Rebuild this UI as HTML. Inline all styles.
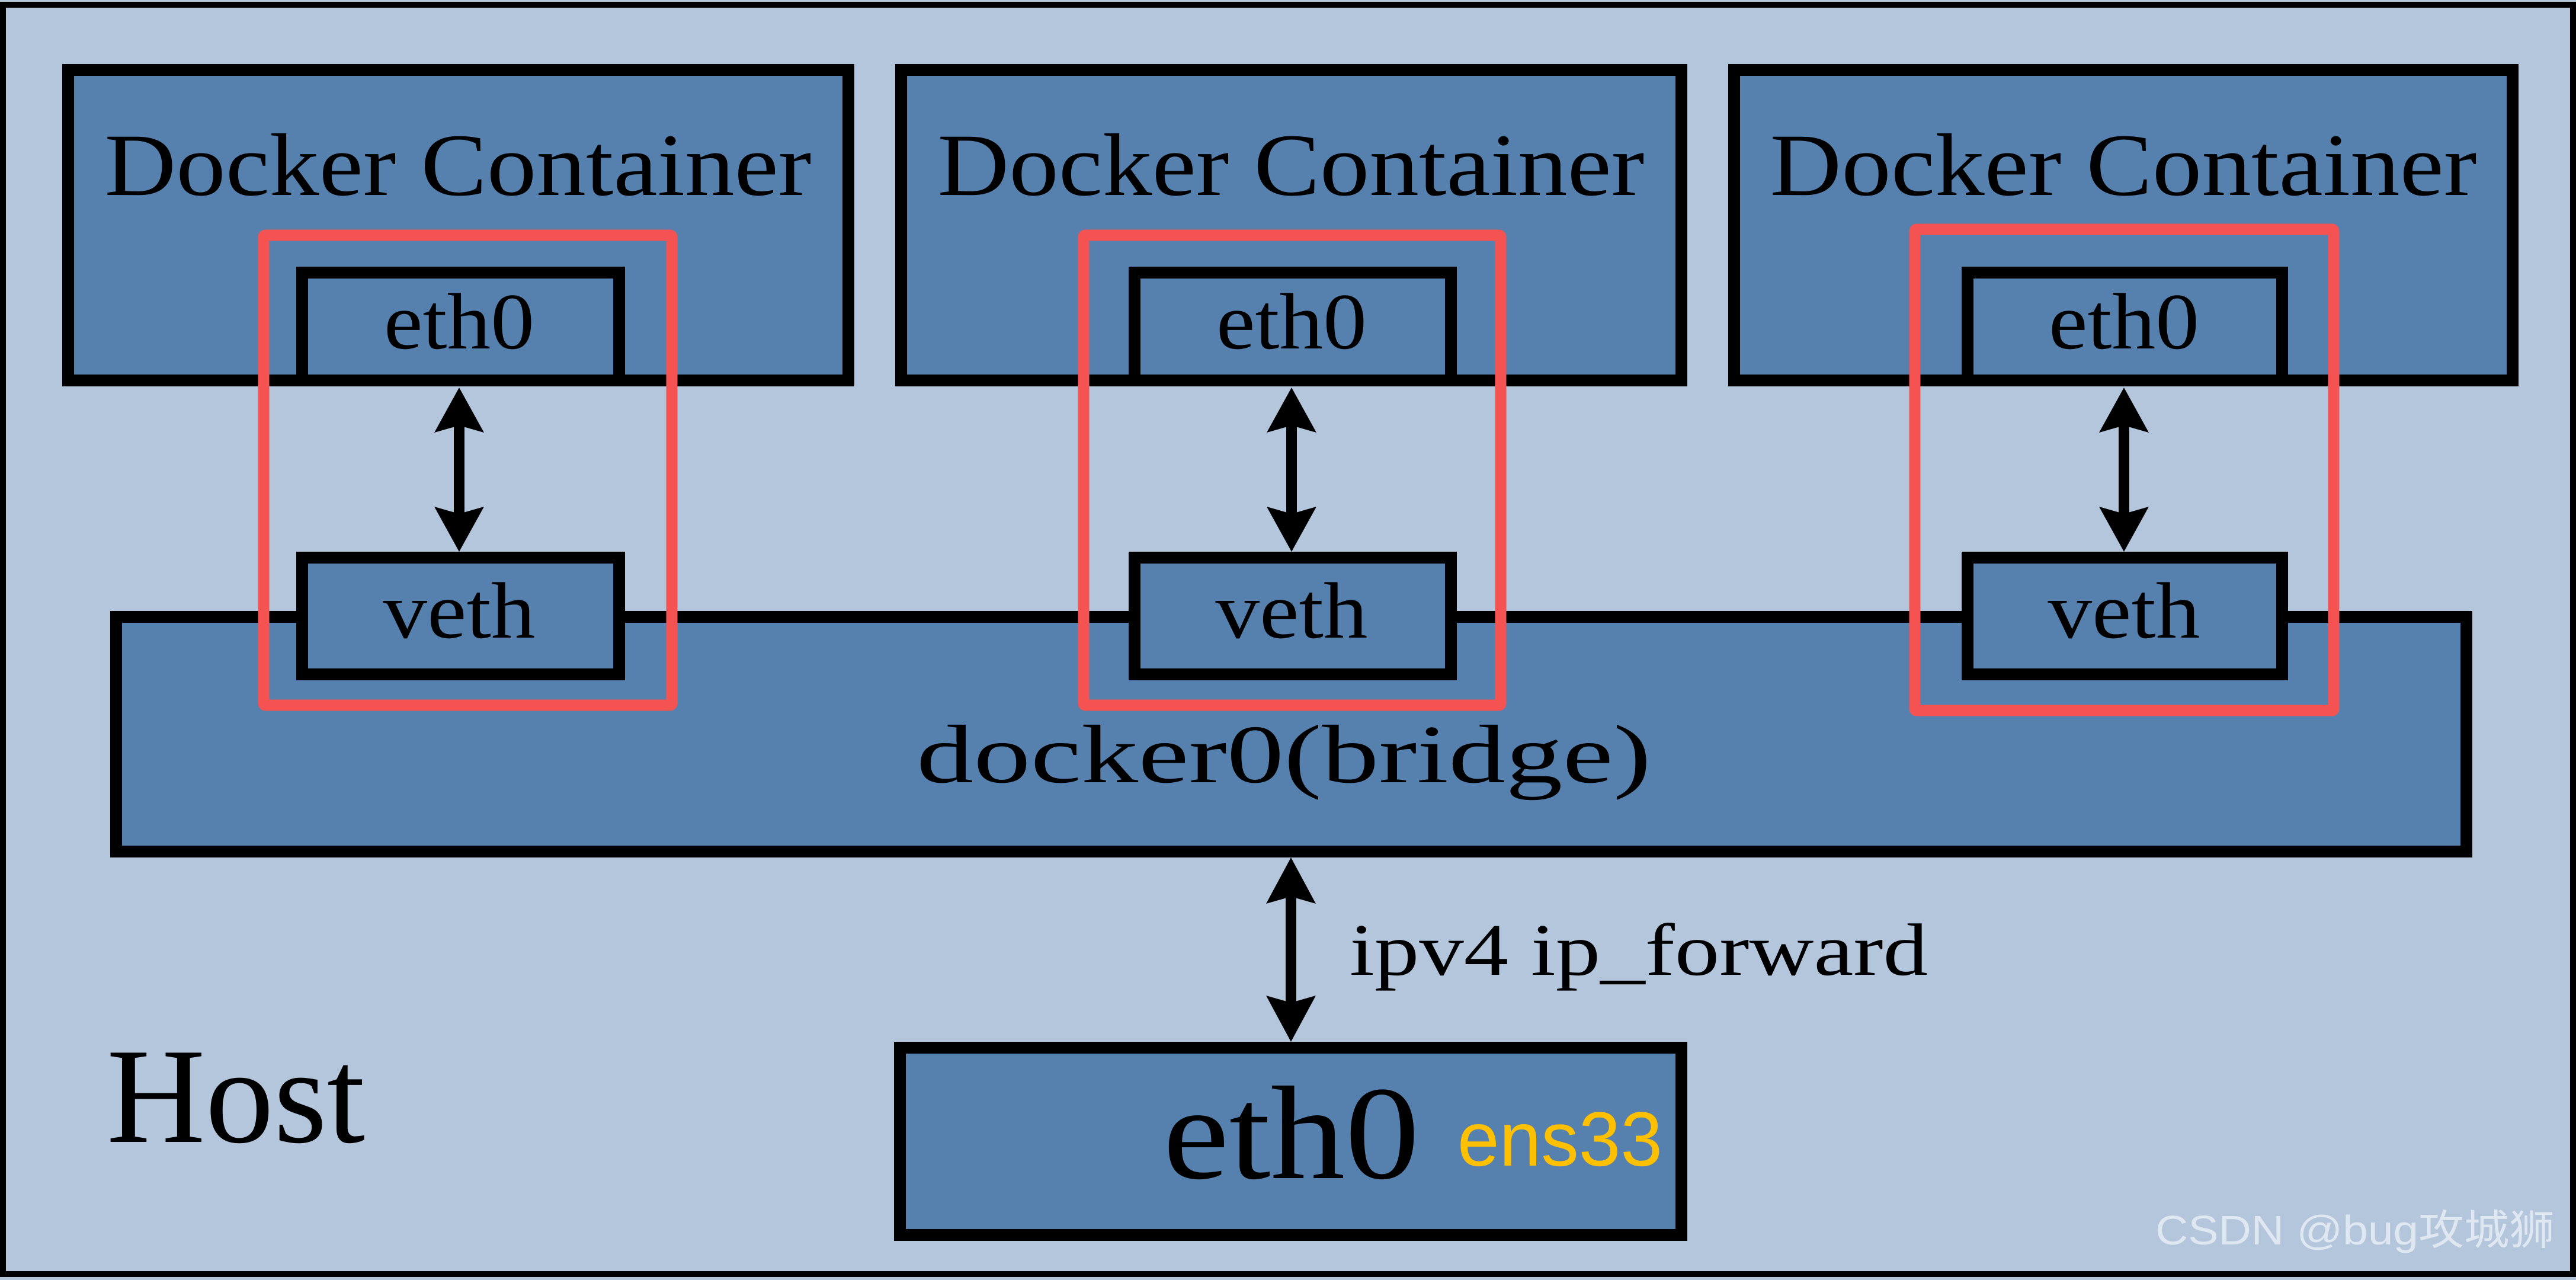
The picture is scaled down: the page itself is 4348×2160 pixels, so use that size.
<!DOCTYPE html>
<html><head><meta charset="utf-8"><style>html,body{margin:0;padding:0;background:#b4c6dc}svg{display:block}</style></head><body>
<svg width="4348" height="2160" viewBox="0 0 4348 2160" xmlns="http://www.w3.org/2000/svg">
<rect x="0" y="0" width="4348" height="2160" fill="#b4c6dc"/>
<rect x="5" y="8" width="4338" height="2142" fill="none" stroke="#000" stroke-width="10"/>
<g fill="#5681ae" stroke="#000" stroke-width="20">
<rect x="115" y="118" width="1317" height="524"/>
<rect x="1521" y="118" width="1317" height="524"/>
<rect x="2927" y="118" width="1314" height="524"/>
<rect x="510" y="460" width="535" height="182"/>
<rect x="1915" y="460" width="534" height="182"/>
<rect x="3321" y="460" width="531" height="182"/>
<rect x="196" y="1041" width="3967" height="396"/>
<rect x="510" y="941" width="535" height="197"/>
<rect x="1915" y="941" width="534" height="197"/>
<rect x="3321" y="941" width="531" height="197"/>
<rect x="1519" y="1768" width="1319" height="316"/>
</g>
<g font-family="Liberation Serif, serif" fill="#000">
<text x="773" y="329" font-size="150" text-anchor="middle" textLength="1193" lengthAdjust="spacingAndGlyphs">Docker Container</text>
<text x="2179" y="329" font-size="150" text-anchor="middle" textLength="1193" lengthAdjust="spacingAndGlyphs">Docker Container</text>
<text x="3584" y="329" font-size="150" text-anchor="middle" textLength="1193" lengthAdjust="spacingAndGlyphs">Docker Container</text>
<text x="775" y="588" font-size="135" text-anchor="middle" textLength="254" lengthAdjust="spacingAndGlyphs">eth0</text>
<text x="2180" y="588" font-size="135" text-anchor="middle" textLength="254" lengthAdjust="spacingAndGlyphs">eth0</text>
<text x="3585" y="588" font-size="135" text-anchor="middle" textLength="254" lengthAdjust="spacingAndGlyphs">eth0</text>
<text x="775" y="1076" font-size="135" text-anchor="middle" textLength="257" lengthAdjust="spacingAndGlyphs">veth</text>
<text x="2180" y="1076" font-size="135" text-anchor="middle" textLength="257" lengthAdjust="spacingAndGlyphs">veth</text>
<text x="3585" y="1076" font-size="135" text-anchor="middle" textLength="257" lengthAdjust="spacingAndGlyphs">veth</text>
<text x="2167" y="1320" font-size="140" text-anchor="middle" textLength="1240" lengthAdjust="spacingAndGlyphs">docker0(bridge)</text>
<text x="2278" y="1645" font-size="125" textLength="976" lengthAdjust="spacingAndGlyphs">ipv4 ip_forward</text>
<text x="180" y="1927" font-size="230" textLength="436" lengthAdjust="spacingAndGlyphs">Host</text>
<text x="1963" y="1988" font-size="225" textLength="433" lengthAdjust="spacingAndGlyphs">eth0</text>
</g>
<text x="2460" y="1967" font-family="Liberation Sans, sans-serif" font-size="130" fill="#ffc000" textLength="346" lengthAdjust="spacingAndGlyphs">ens33</text>
<text x="3638" y="2100" font-family="Liberation Sans, 'Noto Sans CJK SC', sans-serif" font-size="70" fill="#e6ecf3" fill-opacity="0.85" textLength="674" lengthAdjust="spacingAndGlyphs">CSDN @bug攻城狮</text>
<g fill="#000" stroke="#000">
<g id="arr">
<line x1="775" y1="715" x2="775" y2="870" stroke-width="18"/>
<polygon points="775,654 817,730 775,718 733,730" stroke="none"/>
<polygon points="775,931 817,855 775,867 733,855" stroke="none"/>
</g>
<use href="#arr" x="1405"/>
<use href="#arr" x="2810"/>
<line x1="2179" y1="1510" x2="2179" y2="1695" stroke-width="18"/>
<polygon points="2179,1447 2221,1525 2179,1513 2137,1525" stroke="none"/>
<polygon points="2179,1758 2221,1680 2179,1692 2137,1680" stroke="none"/>
</g>
<g fill="none" stroke="#f55252" stroke-width="19">
<rect x="445" y="397" width="689" height="793" rx="3"/>
<rect x="1829" y="397" width="704" height="793" rx="3"/>
<rect x="3232" y="387" width="707" height="812" rx="3"/>
</g>
</svg>
</body></html>
